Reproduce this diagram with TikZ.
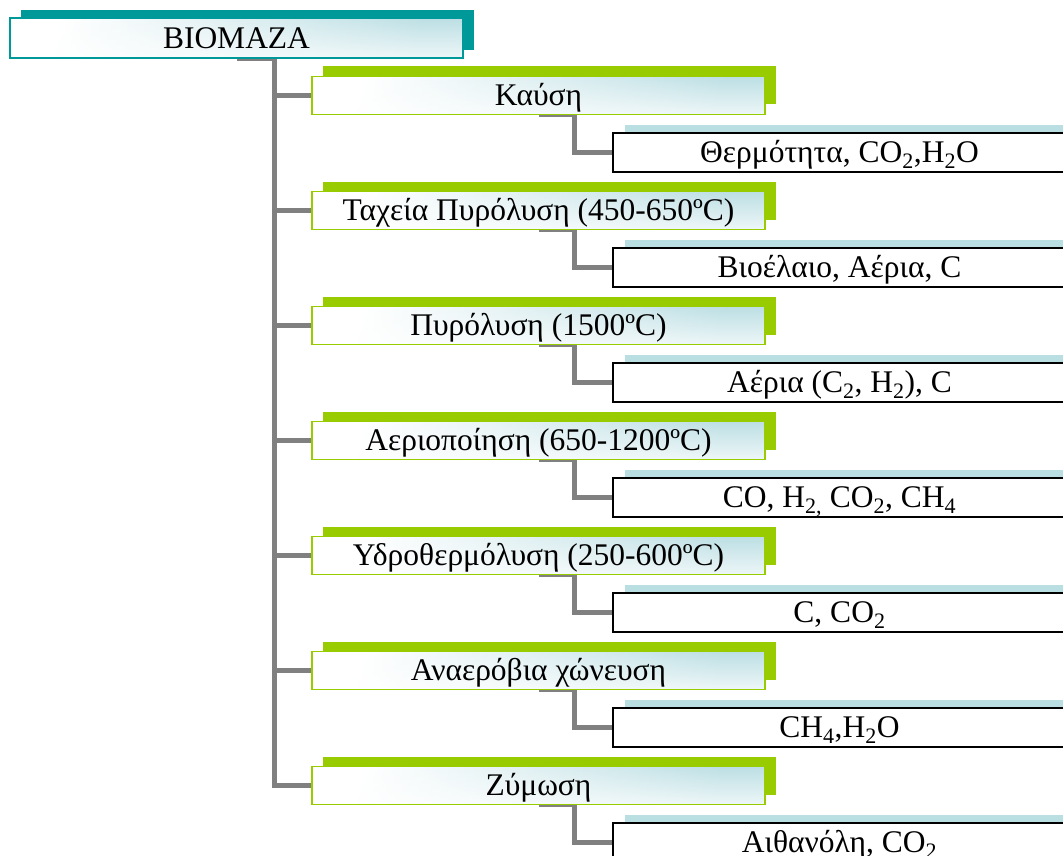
\documentclass[tikz,border=0pt]{standalone}
\usepackage{fontspec}
\setmainfont{Liberation Serif}
\usetikzlibrary{shadows,fadings}
\definecolor{darkteal}{HTML}{009999}
\definecolor{leafgreen}{HTML}{99CC00}
\definecolor{paleteal}{HTML}{BADFE3}
\definecolor{washteal}{HTML}{BCDFE4}
\definecolor{wiregray}{HTML}{808080}
\pgfdeclarelayer{paper}
\pgfdeclarelayer{wires}
\pgfsetlayers{paper,wires,main}
\begin{document}
\begin{tikzpicture}[x=1pt,y=-1pt,
  every node/.style={inner sep=0pt, outer sep=0pt, font=\fontsize{31.5}{36}\selectfont,
    text height=20.5pt, text depth=0pt, align=center},
  washfill/.style={left color=white, right color=washteal, shading angle=70,
    postaction={fill=white, path fading=north, fill opacity=.75},
    postaction={draw=#1, line width=1.4pt}},
  rootbox/.style={minimum width=453pt, minimum height=40pt, draw=darkteal, line width=1.4pt,
    washfill=darkteal,
    general shadow={fill=darkteal, draw=none, shadow xshift=11pt, shadow yshift=7.5pt}},
  procbox/.style={minimum width=453pt, minimum height=38pt, draw=leafgreen, line width=1.4pt,
    washfill=leafgreen,
    general shadow={fill=leafgreen, draw=none, shadow xshift=11pt, shadow yshift=10pt}},
  outbox/.style={minimum width=453pt, minimum height=39pt, draw=black, line width=2pt, fill=white,
    general shadow={fill=paleteal, draw=none, shadow xshift=12pt, shadow yshift=8pt}},
  wire/.style={draw=wiregray, line width=5.5pt}
]
\begin{pgfonlayer}{paper}
  \fill[white] (0,0) rectangle (1063,856);
\end{pgfonlayer}
\useasboundingbox (0,0) rectangle (1063,856);
\clip (0,0) rectangle (1063,856);

% root
\node[rootbox] (bio) at (236.5,38) {BIOMAZA};

% processes
\node[procbox] (p1) at (538.5,95.5)  {Καύση};
\node[procbox] (p2) at (538.5,210.5) {Ταχεία Πυρόλυση (450-650ºC)};
\node[procbox] (p3) at (538.5,325.5) {Πυρόλυση (1500ºC)};
\node[procbox] (p4) at (538.5,440.5) {Αεριοποίηση (650-1200ºC)};
\node[procbox] (p5) at (538.5,555.5) {Υδροθερμόλυση (250-600ºC)};
\node[procbox] (p6) at (538.5,670.5) {Αναερόβια χώνευση};
\node[procbox] (p7) at (538.5,785.5) {Ζύμωση};

% products
\node[outbox] (r1) at (839.5,152.5) {Θερμότητα, CO\textsubscript{2},H\textsubscript{2}O};
\node[outbox] (r2) at (839.5,267.5) {Βιοέλαιο, Αέρια, C};
\node[outbox] (r3) at (839.5,382.5) {Αέρια (C\textsubscript{2}, H\textsubscript{2}), C};
\node[outbox] (r4) at (839.5,497.5) {CO, H\textsubscript{2,} CO\textsubscript{2}, CH\textsubscript{4}};
\node[outbox] (r5) at (839.5,612.5) {C, CO\textsubscript{2}};
\node[outbox] (r6) at (839.5,727.5) {CH\textsubscript{4},H\textsubscript{2}O};
\node[outbox] (r7) at (839.5,842.5) {Αιθανόλη, CO\textsubscript{2}};

% elbow connectors
\begin{pgfonlayer}{wires}
  \foreach \k in {1,...,7} {
    \draw[wire] (bio.south) -- ++(38,0) |- (p\k.west);
    \draw[wire] (p\k.south) -- ++(36,0) |- (r\k.west);
  }
\end{pgfonlayer}
\end{tikzpicture}
\end{document}
